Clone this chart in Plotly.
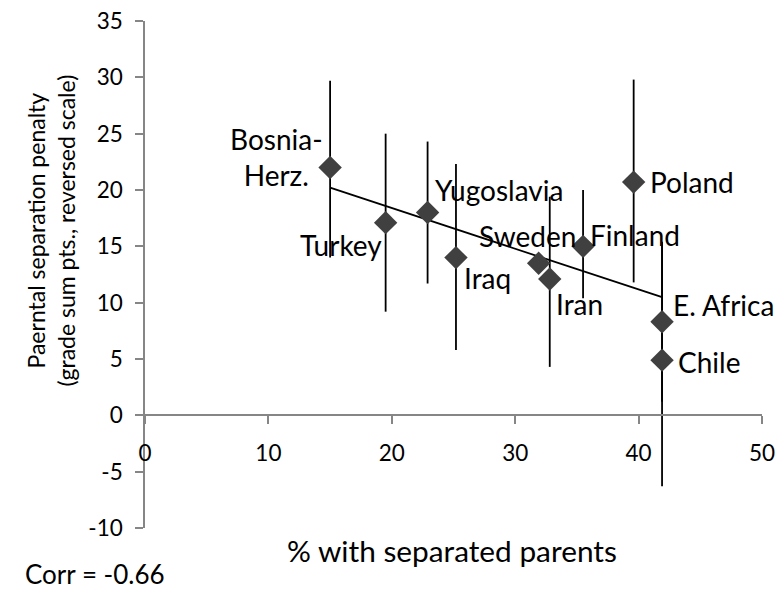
import numpy as np
import plotly.graph_objects as go

# ---- data ----
countries = ["Bosnia-<br>Herz.", "Turkey", "Yugoslavia", "Iraq", "Sweden", "Iran",
             "Finland", "Poland", "E. Africa", "Chile"]
pct_separated = [15.0, 19.5, 22.9, 25.2, 31.9, 32.8, 35.5, 39.6, 41.9, 41.9]
penalty = [22.0, 17.1, 18.0, 14.0, 13.5, 12.1, 15.0, 20.7, 8.3, 4.9]
err_plus = [7.7, 7.9, 6.3, 8.3, 0.0, 7.3, 5.0, 9.1, 7.1, 10.4]
err_minus = [8.0, 7.9, 6.3, 8.2, 0.0, 7.8, 4.6, 8.9, 7.1, 11.2]
corr_text = "Corr = -0.66"
x_ticks = [0, 10, 20, 30, 40, 50]
y_ticks = [-10, -5, 0, 5, 10, 15, 20, 25, 30, 35]

# ---- label placement (pixel offsets from each marker) ----
label_style = {
    "Bosnia-<br>Herz.": dict(xshift=-54, yshift=10, xanchor="center"),
    "Turkey": dict(xshift=-2, yshift=-22, xanchor="right"),
    "Yugoslavia": dict(xshift=5, yshift=23, xanchor="left"),
    "Iraq": dict(xshift=6, yshift=-20, xanchor="left"),
    "Sweden": dict(xshift=39, yshift=27, xanchor="right"),
    "Iran": dict(xshift=4, yshift=-25, xanchor="left"),
    "Finland": dict(xshift=5, yshift=11, xanchor="left"),
    "Poland": dict(xshift=14, yshift=0, xanchor="left"),
    "E. Africa": dict(xshift=9, yshift=17, xanchor="left"),
    "Chile": dict(xshift=14, yshift=-2, xanchor="left"),
}

FONT = "Lato"
AXIS_GREY = "#868686"
MARK = "#404040"

fig = go.Figure()

# linear trend line (least squares fit of the data, over data range)
slope, intercept = np.polyfit(pct_separated, penalty, 1)
xs = [min(pct_separated), max(pct_separated)]
fig.add_trace(go.Scatter(
    x=xs, y=[slope * v + intercept for v in xs], mode="lines",
    line=dict(color="black", width=1.8), hoverinfo="skip", showlegend=False))

fig.add_trace(go.Scatter(
    x=pct_separated, y=penalty, mode="markers",
    marker=dict(symbol="diamond", size=18, color=MARK),
    error_y=dict(type="data", symmetric=False, array=err_plus, arrayminus=err_minus,
                 color="black", thickness=1.8, width=0),
    showlegend=False))

for name, xv, yv in zip(countries, pct_separated, penalty):
    st = label_style[name]
    fig.add_annotation(x=xv, y=yv, xref="x", yref="y", text=name, showarrow=False,
                       xshift=st["xshift"], yshift=st["yshift"], xanchor=st["xanchor"],
                       yanchor="middle", align="center",
                       font=dict(family=FONT, size=28, color="black"))

fig.add_annotation(xref="paper", yref="paper", x=-0.152, y=0.587,
                   text="Paerntal separation penalty<br>(grade sum pts., reversed scale)",
                   textangle=-90, showarrow=False, xanchor="center", yanchor="middle",
                   font=dict(family=FONT, size=23, color="black"))
fig.add_annotation(xref="paper", yref="paper", x=0.498, y=-0.044,
                   text="% with separated parents", showarrow=False,
                   xanchor="center", yanchor="middle",
                   font=dict(family=FONT, size=29.8, color="black"))
fig.add_annotation(xref="paper", yref="paper", x=-0.198, y=-0.09,
                   text=corr_text, showarrow=False, xanchor="left", yanchor="middle",
                   font=dict(family=FONT, size=26, color="black"))

fig.update_layout(
    width=779, height=592,
    margin=dict(l=145, r=17, t=21, b=64),
    paper_bgcolor="white", plot_bgcolor="white",
    font=dict(family=FONT, color="black"),
    hovermode=False,
    xaxis=dict(range=[0, 50], tickvals=x_ticks, ticktext=[str(v) for v in x_ticks],
               showgrid=False, zeroline=False, automargin=False,
               showline=True, linecolor=AXIS_GREY, linewidth=1.5,
               ticks="outside", ticklen=8, tickcolor=AXIS_GREY, tickwidth=1.5,
               anchor="free", position=10 / 45, ticklabelstandoff=10,
               ticklabeloverflow="allow",
               tickfont=dict(family=FONT, size=22.5, color="black")),
    yaxis=dict(range=[-10, 35], tickvals=y_ticks, ticktext=[str(v) for v in y_ticks],
               showgrid=False, zeroline=False, automargin=False,
               showline=True, linecolor=AXIS_GREY, linewidth=1.5,
               ticks="outside", ticklen=8, tickcolor=AXIS_GREY, tickwidth=1.5,
               ticklabelstandoff=8, ticklabeloverflow="allow",
               tickfont=dict(family=FONT, size=22.5, color="black")),
)

# remove the default page margin so the 779x592 figure fills the window exactly
fig.write_html("out.html", config={"displayModeBar": False},
               post_script="document.body.style.margin='0';document.body.style.overflow='hidden';")
